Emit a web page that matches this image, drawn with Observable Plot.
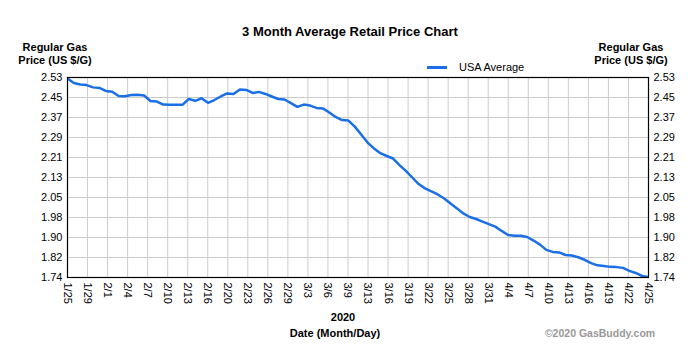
<!DOCTYPE html>
<html><head><meta charset="utf-8">
<script src="https://cdn.jsdelivr.net/npm/d3@7"></script>
<script src="https://cdn.jsdelivr.net/npm/@observablehq/plot@0.6"></script>
<style>
body{margin:0;background:#fff;font-family:"Liberation Sans",Arial,sans-serif;}
#wrap{position:relative;width:693px;height:359px;overflow:hidden;}
.t{position:absolute;white-space:nowrap;transform:translate(-50%,-50%);color:#000;line-height:1;}
.b{font-weight:bold;}
</style></head><body><div id="wrap"></div>
<script>
const startDate = "2020-01-25";
const endDate = "2020-04-25";
const seriesName = "USA Average";
const prices = [
2.526,2.508,2.502,2.500,2.491,2.489,2.477,2.474,2.457,2.456,
2.461,2.462,2.459,2.437,2.435,2.423,2.422,2.422,2.422,2.445,
2.438,2.448,2.430,2.441,2.455,2.467,2.465,2.483,2.481,2.469,
2.473,2.465,2.455,2.445,2.443,2.429,2.414,2.423,2.419,2.410,
2.408,2.392,2.374,2.362,2.360,2.336,2.305,2.273,2.250,2.231,
2.220,2.210,2.184,2.161,2.135,2.109,2.092,2.080,2.068,2.052,
2.032,2.013,1.993,1.979,1.971,1.961,1.951,1.941,1.924,1.908,
1.905,1.905,1.900,1.886,1.870,1.849,1.841,1.839,1.829,1.827,
1.820,1.810,1.797,1.788,1.785,1.782,1.781,1.778,1.766,1.758,
1.746,1.741];
const yTickLabels = ["1.74","1.82","1.90","1.98","2.05","2.13","2.21","2.29","2.37","2.45","2.53"];
const xTickLabels = ["1/25","1/29","2/1","2/4","2/7","2/10","2/13","2/16","2/20","2/23","2/26","2/29","3/3","3/6","3/9","3/13","3/16","3/19","3/22","3/25","3/28","3/31","4/4","4/7","4/10","4/13","4/16","4/19","4/22","4/25"];

const t0 = new Date(startDate + "T00:00:00Z");
const t1 = new Date(endDate + "T00:00:00Z");
const data = prices.map((p, i) => ({date: d3.utcDay.offset(t0, i), price: p}));
const yMin = 1.74, yMax = 2.53;
const yStep = (yMax - yMin) / (yTickLabels.length - 1);
const yTicks = yTickLabels.map((_, i) => yMin + i * yStep);
const xTicks = xTickLabels.map((_, i) => new Date(+t0 + i * (t1 - t0) / (xTickLabels.length - 1)));
const yFmt = d => yTickLabels[Math.round((d - yMin) / yStep)];
const xFmt = d => xTickLabels[xTicks.findIndex(t => Math.abs(+t - +d) < 1000)];
const lineColor = "#1a6ee6";

const chart = Plot.plot({
  width: 693, height: 359,
  marginLeft: 67, marginRight: 45, marginTop: 77, marginBottom: 82,
  style: {fontFamily: '"Liberation Sans", Arial, sans-serif', fontSize: "11px", color: "#000", background: "#fff"},
  x: {type: "utc", domain: [t0, t1], label: null},
  y: {domain: [yMin, yMax], label: null},
  marks: [
    Plot.gridX(xTicks, {stroke: "#cccccc", strokeOpacity: 1, strokeWidth: 1}),
    Plot.gridY(yTicks, {stroke: "#cccccc", strokeOpacity: 1, strokeWidth: 1}),
    Plot.axisY(yTicks, {anchor: "left", tickSize: 0, tickPadding: 5, tickFormat: yFmt, label: null, fontSize: 11}),
    Plot.axisY(yTicks, {anchor: "right", tickSize: 0, tickPadding: 5, tickFormat: yFmt, label: null, fontSize: 11}),
    Plot.axisX(xTicks, {anchor: "bottom", tickSize: 0, tickPadding: 5, tickRotate: 90, tickFormat: xFmt, label: null, fontSize: 11}),
    Plot.lineY(data, {x: "date", y: "price", stroke: lineColor, strokeWidth: 2.5, clip: true}),
    Plot.frame({stroke: "#000", strokeWidth: 1.2})
  ]
});
const wrap = document.getElementById("wrap");
wrap.appendChild(chart);

function addText(txt, x, y, size, cls, extra) {
  const d = document.createElement("div");
  d.className = "t " + (cls || "");
  d.textContent = txt;
  d.style.left = x + "px"; d.style.top = y + "px"; d.style.fontSize = size + "px";
  if (extra) Object.assign(d.style, extra);
  wrap.appendChild(d);
}
addText("3 Month Average Retail Price Chart", 350, 31, 13, "b");
addText("Regular Gas", 55, 47, 11, "b");
addText("Price (US $/G)", 55, 60, 11, "b");
addText("Regular Gas", 631, 47, 11, "b");
addText("Price (US $/G)", 631, 60, 11, "b");
addText("2020", 343, 317, 11, "b");
addText("Date (Month/Day)", 335, 333, 11, "b");
addText("©2020 GasBuddy.com", 600, 333, 10.5, "b", {color: "#999"});

// legend
const leg = document.createElement("div");
leg.style.cssText = "position:absolute;left:427px;top:61px;display:flex;align-items:center;font-size:11px;white-space:nowrap;";
const sw = document.createElement("span");
sw.style.cssText = "display:inline-block;width:20px;height:3px;background:" + lineColor + ";margin-right:12px;";
const lt = document.createElement("span");
lt.textContent = seriesName;
leg.appendChild(sw); leg.appendChild(lt);
wrap.appendChild(leg);
</script>
</body></html>
